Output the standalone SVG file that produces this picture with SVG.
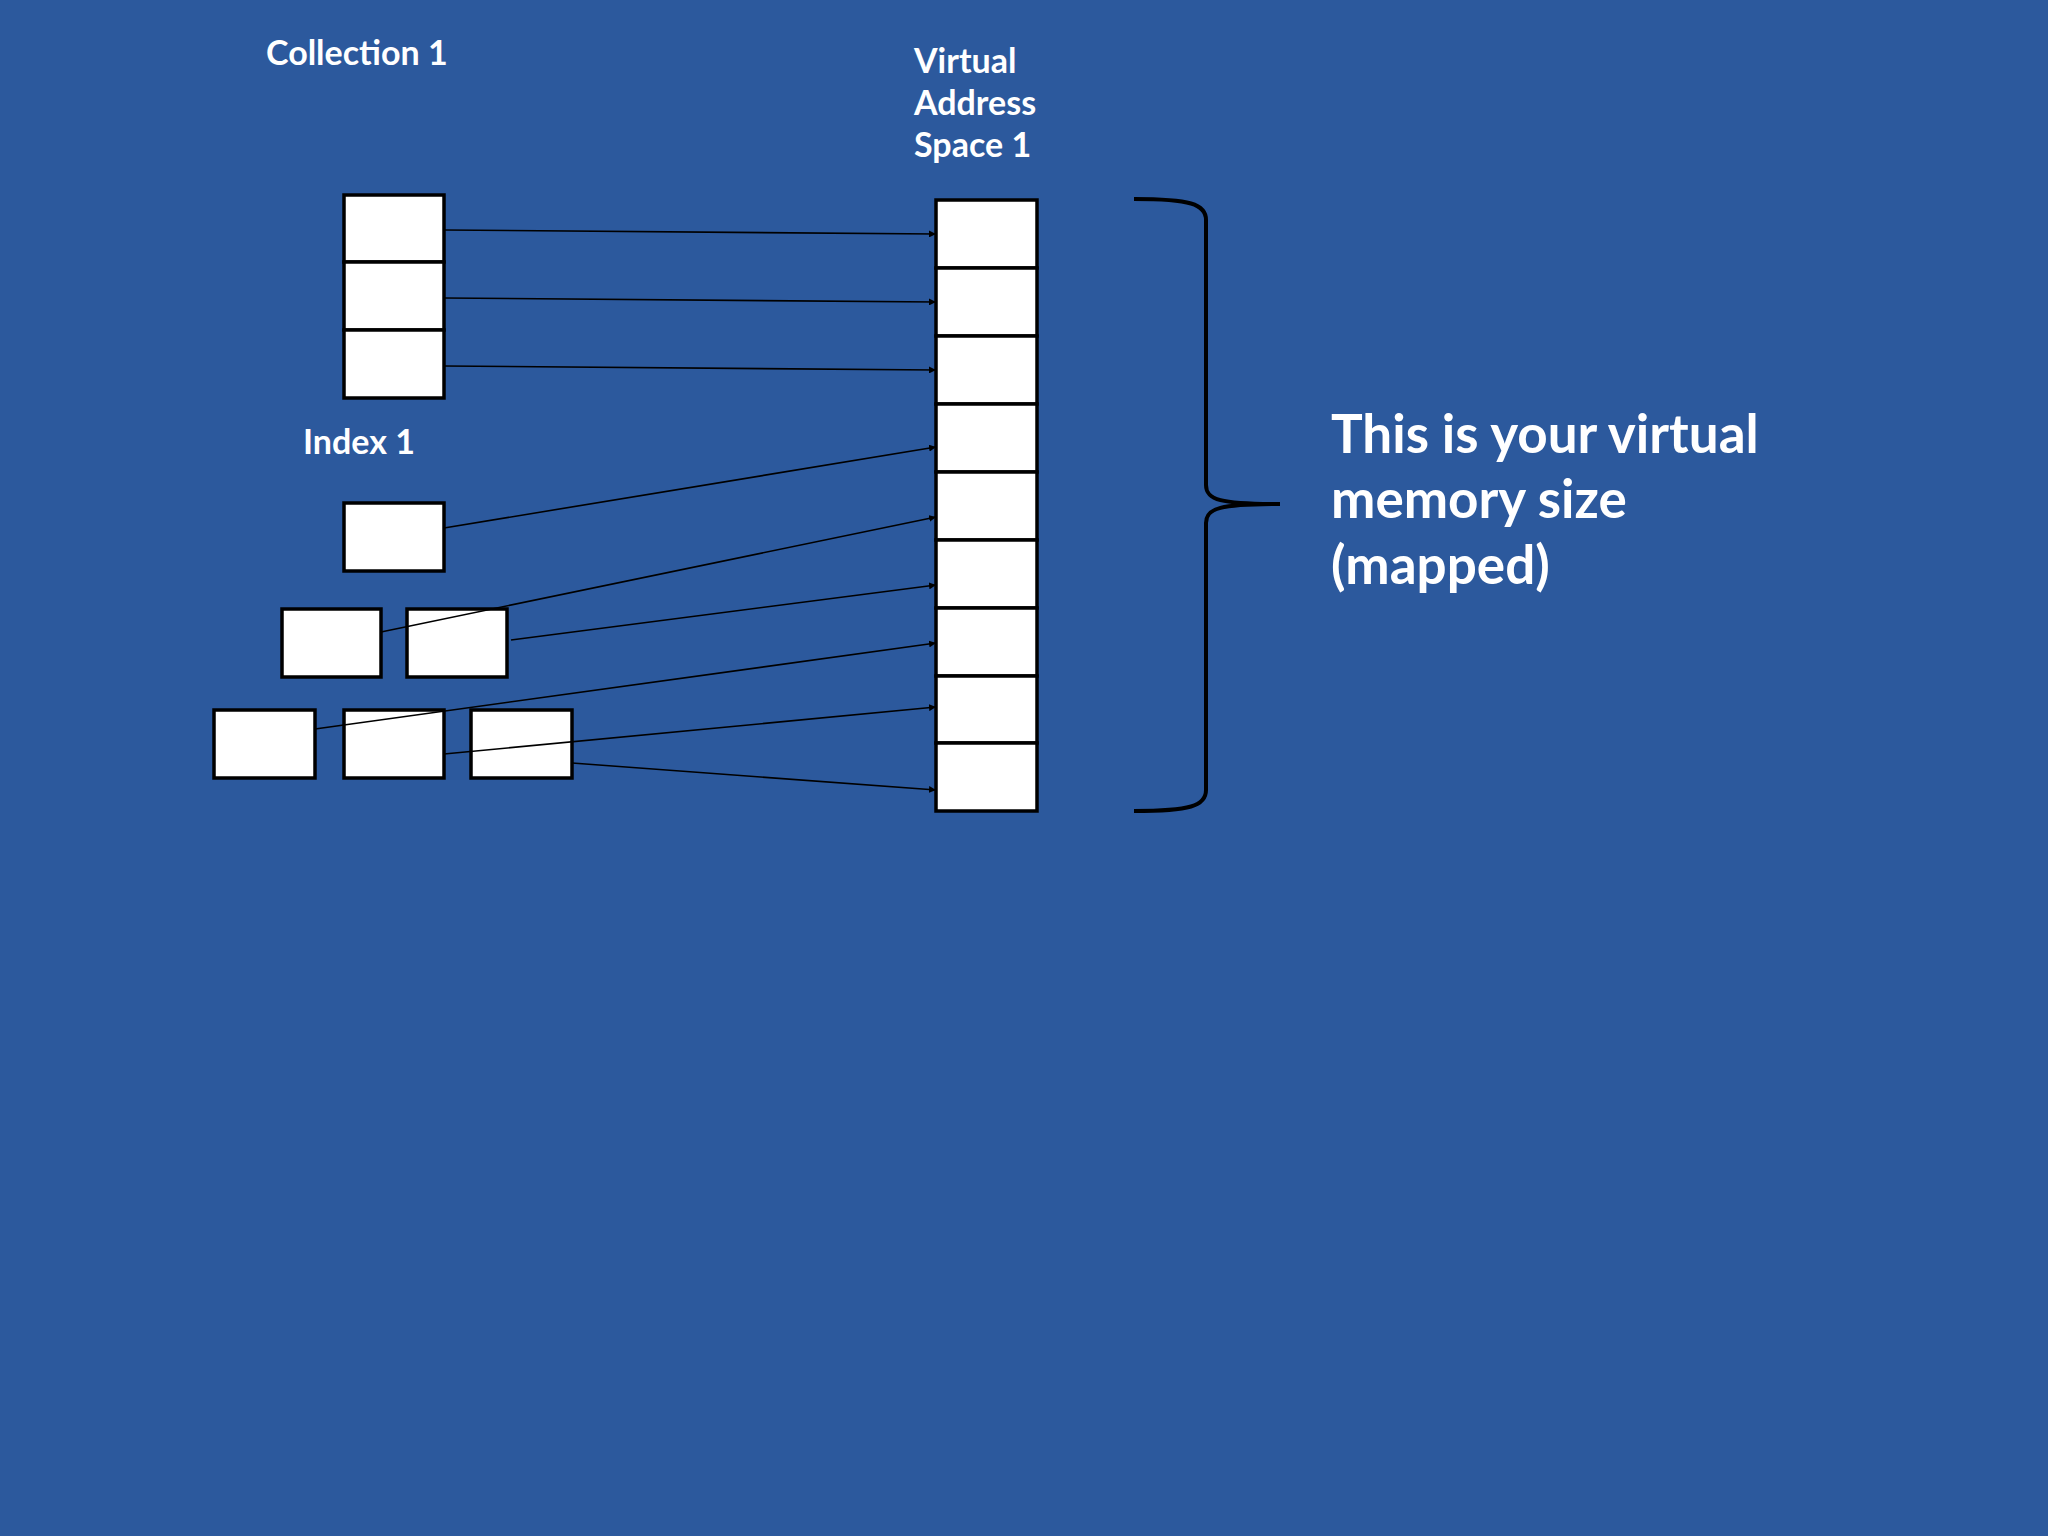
<svg xmlns="http://www.w3.org/2000/svg" width="2048" height="1536" viewBox="0 0 2048 1536">
<style>
.b{fill:#fff;stroke:#000;stroke-width:3.5}
.t{fill:#fff;font-family:Lato,"Open Sans",sans-serif;font-weight:bold}
.c line{stroke:#000;stroke-width:1.6;marker-end:url(#a)}
</style>
<defs><marker id="a" viewBox="0 0 10 10" refX="10" refY="5" markerWidth="7" markerHeight="7" orient="auto" markerUnits="userSpaceOnUse"><path d="M0,0L10,5L0,10z" fill="#000"/></marker></defs>
<rect width="2048" height="1536" fill="#2C599D"/>
<text class="t" x="266" y="65" font-size="34">Collection 1</text>
<text class="t" font-size="34"><tspan x="914" y="73">Virtual</tspan><tspan x="914" y="115">Address</tspan><tspan x="914" y="157">Space 1</tspan></text>
<text class="t" x="303" y="454" font-size="34">Index 1</text>
<text class="t" font-size="53"><tspan x="1331" y="453">This is your virtual</tspan><tspan x="1331" y="518">memory size</tspan><tspan x="1331" y="584">(mapped)</tspan></text>
<g id="collection"><rect class="b" x="344" y="195" width="100" height="67"/><rect class="b" x="344" y="262" width="100" height="68"/><rect class="b" x="344" y="330" width="100" height="68"/></g>
<g id="vas"><rect class="b" x="936" y="200" width="101" height="68"/><rect class="b" x="936" y="268" width="101" height="68"/><rect class="b" x="936" y="336" width="101" height="68"/><rect class="b" x="936" y="404" width="101" height="68"/><rect class="b" x="936" y="472" width="101" height="68"/><rect class="b" x="936" y="540" width="101" height="68"/><rect class="b" x="936" y="608" width="101" height="68"/><rect class="b" x="936" y="676" width="101" height="67"/><rect class="b" x="936" y="743" width="101" height="68"/></g>
<g id="index"><rect class="b" x="344" y="503" width="100" height="68"/><rect class="b" x="282" y="609" width="99" height="68"/><rect class="b" x="407" y="609" width="100" height="68"/><rect class="b" x="214" y="710" width="101" height="68"/><rect class="b" x="344" y="710" width="100" height="68"/><rect class="b" x="471" y="710" width="101" height="68"/></g>
<g id="brace"><path d="M1134,199 C1190,199 1206,204 1206,220 L1206,485 C1206,500 1220,504 1280,504 C1220,504 1206,508 1206,523 L1206,790 C1206,806 1190,811 1134,811" fill="none" stroke="#000" stroke-width="4"/></g>
<g class="c" id="connectors">
<line x1="444" y1="230" x2="936" y2="234"/>
<line x1="444" y1="298" x2="936" y2="302"/>
<line x1="444" y1="366" x2="936" y2="370"/>
<line x1="444" y1="528" x2="936" y2="447"/>
<line x1="381" y1="632" x2="936" y2="517"/>
<line x1="511" y1="640" x2="936" y2="585"/>
<line x1="315" y1="729" x2="936" y2="643"/>
<line x1="444" y1="754" x2="936" y2="707"/>
<line x1="572" y1="763" x2="936" y2="790"/>
</g>
</svg>
